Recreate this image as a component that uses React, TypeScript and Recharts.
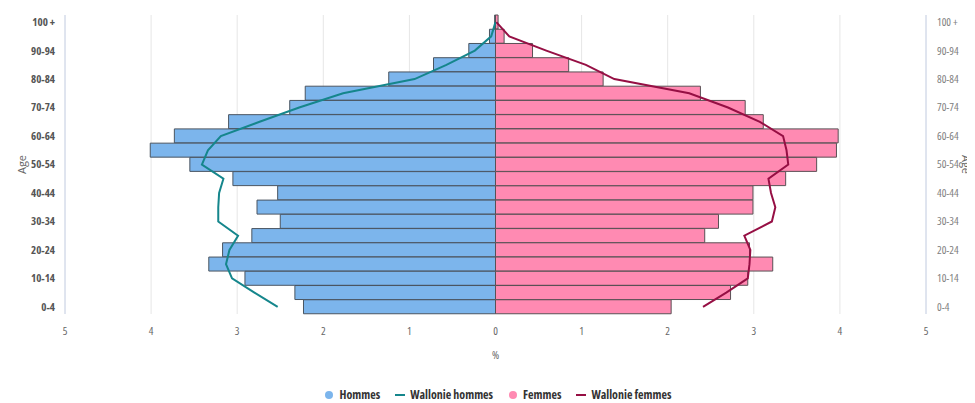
import React from "react";
import {
  ComposedChart,
  Bar,
  Line,
  XAxis,
  YAxis,
  CartesianGrid,
  Legend,
} from "recharts";

// Age groups, from top (oldest) to bottom (youngest)
const ageGroups = [
  "100 +", "95-99", "90-94", "85-89", "80-84", "75-79", "70-74", "65-69",
  "60-64", "55-59", "50-54", "45-49", "40-44", "35-39", "30-34", "25-29",
  "20-24", "15-19", "10-14", "5-9", "0-4",
];

// Percentages (positive values; hommes are drawn to the left)
const hommes = [
  0.01, 0.07, 0.31, 0.72, 1.24, 2.21, 2.39, 3.1, 3.73, 4.01, 3.55,
  3.05, 2.53, 2.77, 2.5, 2.83, 3.17, 3.33, 2.91, 2.33, 2.23,
];
const femmes = [
  0.03, 0.1, 0.43, 0.85, 1.25, 2.38, 2.9, 3.11, 3.98, 3.96, 3.73,
  3.37, 2.99, 2.99, 2.59, 2.43, 2.95, 3.22, 2.93, 2.73, 2.04,
];
const wallonieHommes = [
  0.0, 0.05, 0.24, 0.57, 0.94, 1.77, 2.28, 2.74, 3.19, 3.34, 3.41,
  3.16, 3.21, 3.22, 3.22, 2.99, 3.09, 3.13, 3.06, 2.8, 2.53,
];
const wallonieFemmes = [
  0.01, 0.16, 0.59, 1.05, 1.38, 2.25, 2.7, 3.07, 3.34, 3.38, 3.4,
  3.17, 3.2, 3.25, 3.21, 2.89, 2.96, 2.95, 2.93, 2.68, 2.41,
];

const xTicks = [-5, -4, -3, -2, -1, 0, 1, 2, 3, 4, 5];

const data = ageGroups.map((age, i) => ({
  age,
  hommes: -hommes[i],
  femmes: femmes[i],
  wHommes: -wallonieHommes[i],
  wFemmes: wallonieFemmes[i],
}));

const BLUE = "#7cb5ec";
const PINK = "#ff8ab2";
const TEAL = "#15868c";
const DARKRED = "#960f44";
const FONT = "'Open Sans', sans-serif";

const legendItems = [
  { label: "Hommes", color: BLUE, type: "circle" },
  { label: "Wallonie hommes", color: TEAL, type: "line" },
  { label: "Femmes", color: PINK, type: "circle" },
  { label: "Wallonie femmes", color: DARKRED, type: "line" },
];

const renderLegend = () => (
  <div
    style={{
      display: "flex",
      justifyContent: "center",
      alignItems: "flex-end",
      fontFamily: FONT,
      fontStretch: "condensed",
      fontWeight: 700,
      fontSize: 12,
      color: "#333",
      height: 24,
      paddingLeft: 13,
    }}
  >
    {legendItems.map((it, idx) => (
      <div
        key={it.label}
        style={{
          display: "flex",
          alignItems: "center",
          marginRight: idx === legendItems.length - 1 ? 0 : 15,
        }}
      >
        <svg width={10} height={10} style={{ marginRight: 5 }}>
          {it.type === "circle" ? (
            <circle cx={5} cy={5} r={4} fill={it.color} />
          ) : (
            <line x1={0} y1={5} x2={10} y2={5} stroke={it.color} strokeWidth={2} />
          )}
        </svg>
        <span>{it.label}</span>
      </div>
    ))}
  </div>
);

export default function App() {
  return (
    <ComposedChart
      width={967}
      height={395}
      data={data}
      layout="vertical"
      stackOffset="sign"
      barCategoryGap={0}
      barGap={0}
      margin={{ top: 7, right: 0, bottom: 0, left: 0 }}
    >
      <CartesianGrid horizontal={false} vertical stroke="#e6e6e6" />
      <XAxis
        type="number"
        domain={[-5, 5]}
        ticks={xTicks}
        tickFormatter={(v: number) => String(Math.abs(v))}
        axisLine={false}
        tickLine={false}
        tickMargin={7}
        height={65}
        tick={{ fill: "#666", fontSize: 11, fontFamily: FONT, fontStretch: "condensed" }}
        label={{
          value: "%",
          position: "insideTop",
          offset: 37,
          fill: "#666",
          fontSize: 11,
          fontFamily: FONT,
          fontStretch: "condensed",
        }}
      />
      <YAxis
        yAxisId="left"
        type="category"
        dataKey="age"
        orientation="left"
        width={57}
        interval={1}
        axisLine={{ stroke: "#ccd6eb" }}
        tickLine={false}
        tickMargin={4}
        tick={{ fill: "#555", fontSize: 11, fontWeight: 700, fontFamily: FONT, fontStretch: "condensed" }}
        label={{
          value: "Age",
          angle: -90,
          position: "insideLeft",
          offset: 14,
          textAnchor: "middle",
          fill: "#666",
          fontSize: 11,
          fontFamily: FONT,
        }}
      />
      <YAxis
        yAxisId="right"
        type="category"
        dataKey="age"
        orientation="right"
        width={49}
        interval={1}
        axisLine={{ stroke: "#ccd6eb" }}
        tickLine={false}
        tickMargin={5}
        tick={{ fill: "#808080", fontSize: 11, fontFamily: FONT, fontStretch: "condensed" }}
        label={{
          value: "Age",
          angle: 90,
          position: "insideRight",
          offset: 9,
          textAnchor: "middle",
          fill: "#666",
          fontSize: 11,
          fontFamily: FONT,
        }}
      />
      <Bar
        yAxisId="left"
        dataKey="hommes"
        name="Hommes"
        stackId="pop"
        fill={BLUE}
        stroke="#4a5561"
        strokeWidth={1}
        isAnimationActive={false}
      />
      <Bar
        yAxisId="left"
        dataKey="femmes"
        name="Femmes"
        stackId="pop"
        fill={PINK}
        stroke="#5a5055"
        strokeWidth={1}
        isAnimationActive={false}
      />
      <Line
        yAxisId="left"
        dataKey="wHommes"
        name="Wallonie hommes"
        type="linear"
        stroke={TEAL}
        strokeWidth={2}
        dot={false}
        activeDot={false}
        isAnimationActive={false}
      />
      <Line
        yAxisId="left"
        dataKey="wFemmes"
        name="Wallonie femmes"
        type="linear"
        stroke={DARKRED}
        strokeWidth={2}
        dot={false}
        activeDot={false}
        isAnimationActive={false}
      />
      <Legend verticalAlign="bottom" content={renderLegend} />
    </ComposedChart>
  );
}
